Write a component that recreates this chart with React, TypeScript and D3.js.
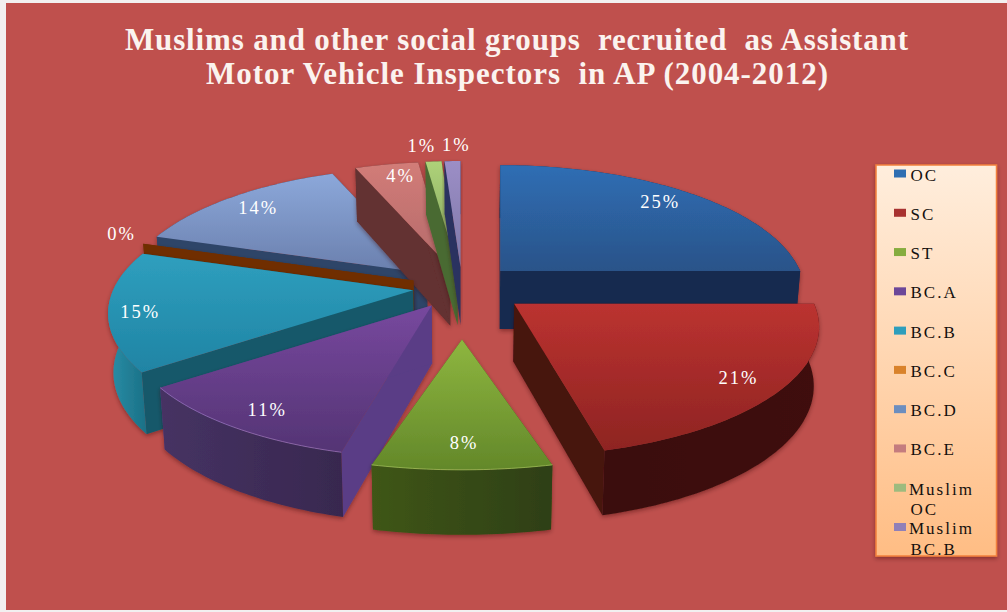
import React from "react";
import * as d3 from "d3";

const categories = ["OC", "SC", "ST", "BC.A", "BC.B", "BC.C", "BC.D", "BC.E", "Muslim OC", "Muslim BC.B"];
const shares = [25, 21, 8, 11, 15, 0, 14, 4, 1, 1];
const titleLines = [
  "Muslims and other social groups  recruited  as Assistant",
  "Motor Vehicle Inspectors  in AP (2004-2012)",
];

// Radial pull of each slice away from the pie centre
const explode = [0.18, 0.22, 0.42, 0.18, 0.165, 0.17, 0.16, 0.16, 0.16, 0.16];
// Per-slice flattening of the top face
const flatten = [1, 1, 0.855, 1, 1, 1, 1, 1, 1, 1];
// Label placement: radial fraction, then small nudges
const labelPlace = [
  [0.85, 0, -3], [0.857, -4, 0], [0.79, 2, 0], [0.83, 0, 3], [0.895, 0, 3],
  [1.08, 0, -7], [0.867, 0, 0], [0.89, 7, 0], [1.155, -8, 0], [1.155, 5, 0],
];

const topColors = [
  ["#2f6eb4", "#2a5389"], ["#bb3230", "#8e2422"], ["#8eb63f", "#63882a"], ["#77489e", "#543474"],
  ["#2f9fbe", "#1f84a4"], ["#6f2f06", "#6f2f06"], ["#8ca8da", "#6a7fad"], ["#d27c78", "#b46a6a"],
  ["#aed279", "#7f9f5b"], ["#9c8ec6", "#7d78a8"],
];
const cutWall = ["#152b4f", "#47130f", "#3f5618", "#5a3d86", "#14596b", "#6f2f06", "#2f4468", "#633030", "#4a6a33", "#2b3160"];
const rimWall = [
  ["#152b4f", "#152b4f"], ["#3a0e0c", "#3f100d"], ["#3f5618", "#2e3f12"], ["#463263", "#38284f"],
  ["#2a8fa8", "#1a6f85"], ["#6f2f06", "#6f2f06"], ["#2f4468", "#2f4468"], ["#633030", "#633030"],
  ["#4a6a33", "#4a6a33"], ["#2b3160", "#2b3160"],
];
const rimLight = [null, null, "#a9c860", "#9a78c0", null, null, null, null, null, null];
const legendColors = ["#2f6eb2", "#a83230", "#86ac3f", "#6c4799", "#2e9ebc", "#d9822b", "#6c8ebf", "#c47c7e", "#9dbb7e", "#9080b8"];

const WIDTH = 1007;
const HEIGHT = 612;
const cx = 462;
const cy = 287;
const R = 300;
const Ry = 125;
const persp = 0.18;
const baseDepth = 58;

type Pt = { x: number; y: number };

const perspective = (a: number) => 1 / (1 + persp * Math.cos(a));
const depthAt = (w: number) => baseDepth * (1 + (w - 1) * 0.55);

const pieLayout = d3.pie<number>().sort(null).value((d) => d).startAngle(0).endAngle(2 * Math.PI);
const arcs = pieLayout(shares);

const linePath = d3.line<Pt>().x((d) => d.x).y((d) => d.y);

const slices = arcs.map((a, i) => {
  const mid = (a.startAngle + a.endAngle) / 2;
  const apex: Pt = {
    x: cx + explode[i] * R * Math.sin(mid),
    y: cy - explode[i] * Ry * Math.cos(mid),
  };
  const rimPoint = (t: number, r = 1): Pt => {
    const w = perspective(t);
    return {
      x: apex.x + r * R * Math.sin(t) * w,
      y: apex.y - r * Ry * flatten[i] * Math.cos(t) * w,
    };
  };
  const drop = (p: Pt, w: number): Pt => ({
    x: cx + (p.x - cx) * 0.985,
    y: p.y + depthAt(w),
  });
  const steps = Math.max(1, Math.ceil((a.endAngle - a.startAngle) / 0.02));
  const angles = d3.range(steps + 1).map((k) => a.startAngle + ((a.endAngle - a.startAngle) * k) / steps);
  const rim = angles.map((t) => rimPoint(t));
  const rimLow = angles.map((t, k) => drop(rim[k], perspective(t))).reverse();
  const apexLow = drop(apex, 1);
  const first = rim[0];
  const last = rim[rim.length - 1];
  const firstLow = drop(first, perspective(a.startAngle));
  const lastLow = drop(last, perspective(a.endAngle));
  const [lr, dx, dy] = labelPlace[i];
  const lab = rimPoint(mid, lr);
  return {
    i,
    top: linePath([apex, ...rim])! + "Z",
    rimWall: linePath([...rim, ...rimLow])! + "Z",
    rimEdge: linePath(rim)!,
    wallA: linePath([apex, first, firstLow, apexLow])! + "Z",
    wallB: linePath([apex, last, lastLow, apexLow])! + "Z",
    label: { x: lab.x + dx, y: lab.y + dy },
  };
});

// Far slices are painted first so the nearer ones overlap them
const paintOrder = [0, 6, 7, 8, 9, 5, 4, 3, 1, 2];

const legendY = d3.scalePoint<string>().domain(categories).range([173.5, 527]);

const serif = "'Liberation Serif', serif";

export default function App() {
  return (
    <svg
      width={WIDTH}
      height={HEIGHT}
      viewBox={`0 0 ${WIDTH} ${HEIGHT}`}
      style={{ position: "fixed", left: 0, top: 0, background: "#f2f0f0", display: "block" }}
    >
      <defs>
        {slices.map((s) => (
          <linearGradient key={s.i} id={`top-${s.i}`} x1="0" y1="0" x2="0" y2="1">
            <stop offset="0" stopColor={topColors[s.i][0]} />
            <stop offset="1" stopColor={topColors[s.i][1]} />
          </linearGradient>
        ))}
        {slices.map((s) => (
          <linearGradient key={s.i} id={`rim-${s.i}`} x1="0" y1="0" x2="1" y2="0">
            <stop offset="0" stopColor={rimWall[s.i][0]} />
            <stop offset="1" stopColor={rimWall[s.i][1]} />
          </linearGradient>
        ))}
        <linearGradient id="legend-fill" x1="0" y1="0" x2="0" y2="1">
          <stop offset="0" stopColor="#ffeedd" />
          <stop offset="1" stopColor="#ffbd84" />
        </linearGradient>
        <filter id="soft" x="-10%" y="-10%" width="120%" height="120%">
          <feDropShadow dx="0" dy="2" stdDeviation="2.2" floodColor="#300" floodOpacity="0.4" />
        </filter>
      </defs>

      <rect x={6} y={3} width={WIDTH - 6} height={607} fill="#bf504d" />

      {titleLines.map((t, i) => (
        <text
          key={t}
          x={i === 0 ? 125 : 206}
          y={i === 0 ? 50 : 84}
          textLength={i === 0 ? 783 : 622}
          lengthAdjust="spacing"
          fontFamily={serif}
          fontWeight="bold"
          fontSize={31}
          fill="#fbf3ef"
          style={{ whiteSpace: "pre" }}
        >
          {t}
        </text>
      ))}

      {paintOrder.map((i) => {
        const s = slices[i];
        return (
          <g key={i} filter="url(#soft)">
            <path d={s.wallA} fill={cutWall[i]} />
            <path d={s.wallB} fill={cutWall[i]} />
            <path d={s.rimWall} fill={`url(#rim-${i})`} />
            <path d={s.top} fill={`url(#top-${i})`} />
            {rimLight[i] && <path d={s.rimEdge} fill="none" stroke={rimLight[i]!} strokeWidth={1} opacity={0.7} />}
          </g>
        );
      })}

      {slices.map((s) => (
        <text
          key={s.i}
          x={s.label.x}
          y={s.label.y}
          dy="0.35em"
          textAnchor="middle"
          fontFamily={serif}
          fontSize={18.5}
          letterSpacing={2}
          fill="#ffffff"
        >
          {`${shares[s.i]}%`}
        </text>
      ))}

      <rect
        x={876}
        y={165}
        width={120.5}
        height={391}
        fill="url(#legend-fill)"
        stroke="#f2803c"
        strokeWidth={1.5}
        filter="url(#soft)"
      />
      {categories.map((c, i) => {
        const y = legendY(c)!;
        const parts = c.startsWith("Muslim") ? ["Muslim", c.slice(7)] : [c];
        return (
          <g key={c}>
            <rect x={894} y={y - 4} width={12} height={8} fill={legendColors[i]} />
            {parts.map((p, k) => (
              <text
                key={p}
                x={k === 0 && parts.length > 1 ? 909 : 910.5}
                y={y + 7 + k * 20.5}
                fontFamily={serif}
                fontSize={17}
                letterSpacing={2}
                fill="#14100e"
              >
                {p}
              </text>
            ))}
          </g>
        );
      })}
    </svg>
  );
}
